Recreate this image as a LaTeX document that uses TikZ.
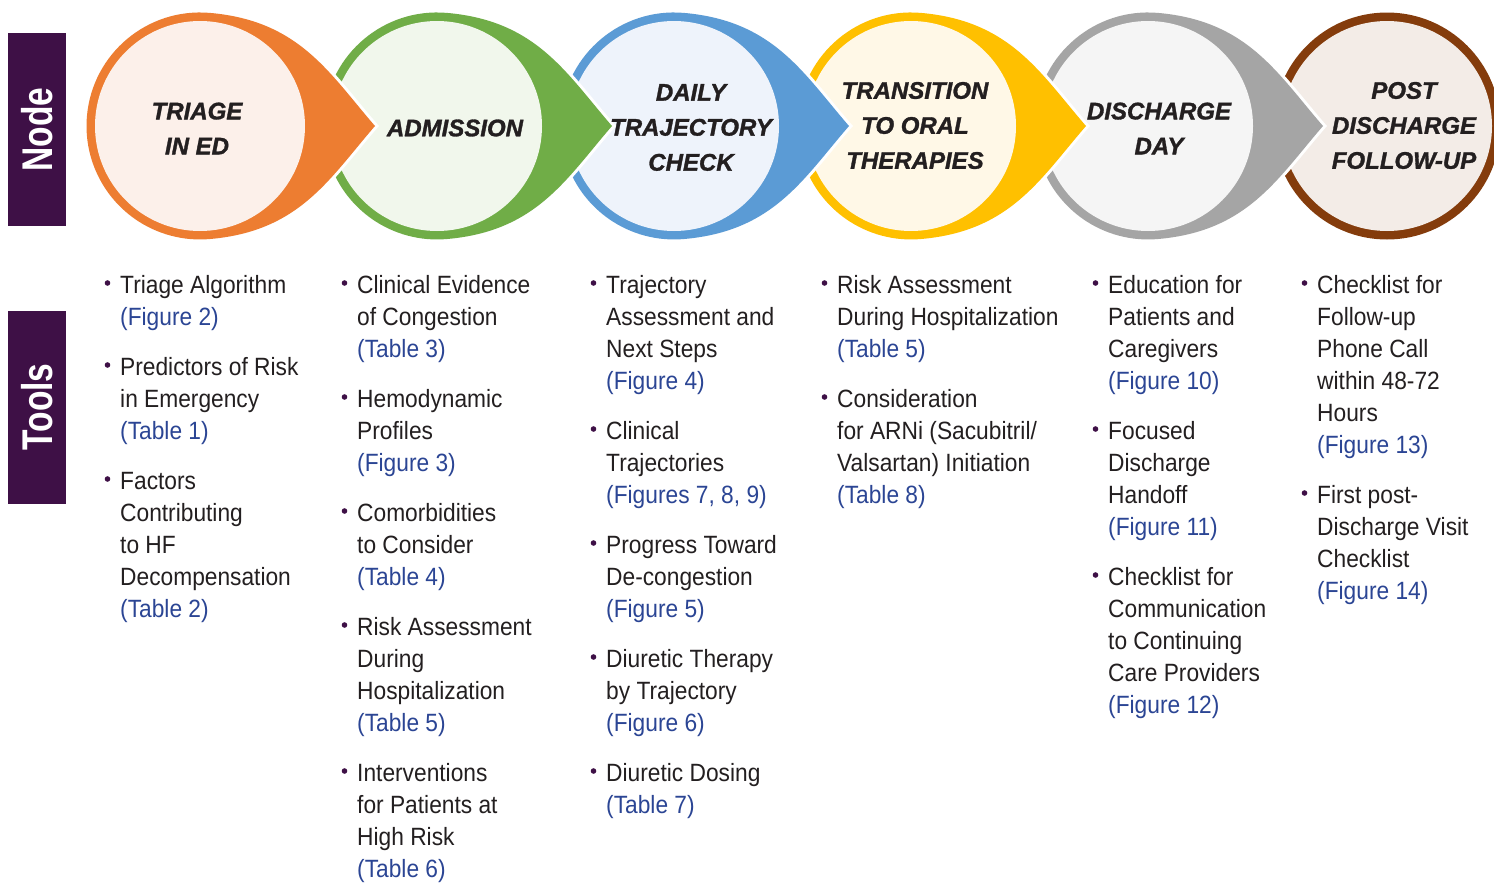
\documentclass[tikz,border=0pt]{standalone}
\usepackage{fontspec}
\setmainfont{Liberation Sans}
\newfontfamily\bodyfont[FakeStretch=0.91]{Liberation Sans}
\newfontfamily\headfont[BoldItalicFeatures={FakeBold=1.3}]{Liberation Sans}
\newfontfamily\sidefont[FakeStretch=0.78]{Liberation Sans}
\usepackage{xcolor}
\usepackage{tikz}
\usetikzlibrary{positioning}

\definecolor{sidepurple}{HTML}{3E1046}
\definecolor{refblue}{HTML}{2B4594}
\definecolor{inkblack}{HTML}{231F20}
\definecolor{dorange}{HTML}{ED7D31}
\definecolor{lorange}{HTML}{FCF0EA}
\definecolor{dgreen}{HTML}{70AD47}
\definecolor{lgreen}{HTML}{F1F7EC}
\definecolor{dblue}{HTML}{5B9BD5}
\definecolor{lblue}{HTML}{EEF3FB}
\definecolor{dyellow}{HTML}{FFC000}
\definecolor{lyellow}{HTML}{FFF8E7}
\definecolor{dgray}{HTML}{A5A5A5}
\definecolor{lgray}{HTML}{F5F5F5}
\definecolor{dbrown}{HTML}{843C0C}
\definecolor{lbrown}{HTML}{F3ECE7}

\newcommand{\reftxt}[1]{\textcolor{refblue}{#1}}
\newcommand{\toolitem}[4]{%
  \fill[sidepurple] (#2-12.5,-#3+10) circle (2.8);
  \node[tooltext] (#1) at (#2,-#3+24) {\rule{0pt}{24pt}#4};}

\tikzset{
  stage/.style={align=center, inner sep=0pt, text=inkblack,
    font=\headfont\bfseries\itshape\fontsize{24}{35}\selectfont},
  tooltext/.style={anchor=north west, align=left, inner sep=0pt, text=inkblack,
    font=\bodyfont\fontsize{25}{32}\selectfont},
  sidebox/.style={fill=sidepurple, text=white, rotate=90, inner sep=0pt,
    minimum width=193pt, minimum height=58pt,
    font=\sidefont\bfseries\fontsize{43}{43}\selectfont}
}

\begin{document}
\begin{tikzpicture}[x=1pt,y=1pt]
  \useasboundingbox (0,0) rectangle (1494,-884);

  % side labels
  \node[sidebox] (nodebox) at (37,-129.5) {Node};
  \node[sidebox] (toolbox) at (37,-407) {Tools};

  % last stage: plain circle
  \fill[dbrown] (1387,-126) circle (113.5);
  \fill[lbrown] (1387,-126) circle (105);

  % stages with tails, drawn from right to left
  \foreach \cx/\ring/\core in {1148/dgray/lgray, 911/dyellow/lyellow,
      674/dblue/lblue, 437/dgreen/lgreen, 200/dorange/lorange} {
    \begin{scope}[shift={(\cx,-126)}]
      \path[preaction={draw=white, line width=6pt}, fill=\ring]
        (175,0) .. controls (129.1,52.9) and (99.5,105.3) .. (9.9,113.1)
        arc[start angle=85, end angle=275, radius=113.5]
        .. controls (99.5,-105.3) and (129.1,-52.9) .. (175,0) -- cycle;
      \fill[\core] (0,0) circle (105);
    \end{scope}
  }

  \node[stage] (triage) at (197,-128.5) {TRIAGE\\IN ED};
  \node[stage] (admission) at (455,-128) {ADMISSION};
  \node[stage] (daily) at (691,-127.5) {DAILY\\TRAJECTORY\\CHECK};
  \node[stage] (transition) at (915,-125.5) {TRANSITION\\TO ORAL\\THERAPIES};
  \node[stage] (discharge) at (1159,-128.5) {DISCHARGE\\DAY};
  \node[stage] (post) at (1404,-125.5) {POST\\DISCHARGE\\FOLLOW-UP};

  % tools per stage
  \toolitem{triA}{120}{293}{Triage Algorithm\\\reftxt{(Figure 2)}}
  \toolitem{triB}{120}{375}{Predictors of Risk\\in Emergency\\\reftxt{(Table 1)}}
  \toolitem{triC}{120}{489}{Factors\\Contributing\\to HF\\Decompensation\\\reftxt{(Table 2)}}

  \toolitem{admA}{357}{293}{Clinical Evidence\\of Congestion\\\reftxt{(Table 3)}}
  \toolitem{admB}{357}{407}{Hemodynamic\\Profiles\\\reftxt{(Figure 3)}}
  \toolitem{admC}{357}{521}{Comorbidities\\to Consider\\\reftxt{(Table 4)}}
  \toolitem{admD}{357}{635}{Risk Assessment\\During\\Hospitalization\\\reftxt{(Table 5)}}
  \toolitem{admE}{357}{781}{Interventions\\for Patients at\\High Risk\\\reftxt{(Table 6)}}

  \toolitem{dayA}{606}{293}{Trajectory\\Assessment and\\Next Steps\\\reftxt{(Figure 4)}}
  \toolitem{dayB}{606}{439}{Clinical\\Trajectories\\\reftxt{(Figures 7, 8, 9)}}
  \toolitem{dayC}{606}{553}{Progress Toward\\De-congestion\\\reftxt{(Figure 5)}}
  \toolitem{dayD}{606}{667}{Diuretic Therapy\\by Trajectory\\\reftxt{(Figure 6)}}
  \toolitem{dayE}{606}{781}{Diuretic Dosing\\\reftxt{(Table 7)}}

  \toolitem{oralA}{837}{293}{Risk Assessment\\During Hospitalization\\\reftxt{(Table 5)}}
  \toolitem{oralB}{837}{407}{Consideration\\for ARNi (Sacubitril/\\Valsartan) Initiation\\\reftxt{(Table 8)}}

  \toolitem{disA}{1108}{293}{Education for\\Patients and\\Caregivers\\\reftxt{(Figure 10)}}
  \toolitem{disB}{1108}{439}{Focused\\Discharge\\Handoff\\\reftxt{(Figure 11)}}
  \toolitem{disC}{1108}{585}{Checklist for\\Communication\\to Continuing\\Care Providers\\\reftxt{(Figure 12)}}

  \toolitem{postA}{1317}{293}{Checklist for\\Follow-up\\Phone Call\\within 48-72\\Hours\\\reftxt{(Figure 13)}}
  \toolitem{postB}{1317}{503}{First post-\\Discharge Visit\\Checklist\\\reftxt{(Figure 14)}}
\end{tikzpicture}
\end{document}
